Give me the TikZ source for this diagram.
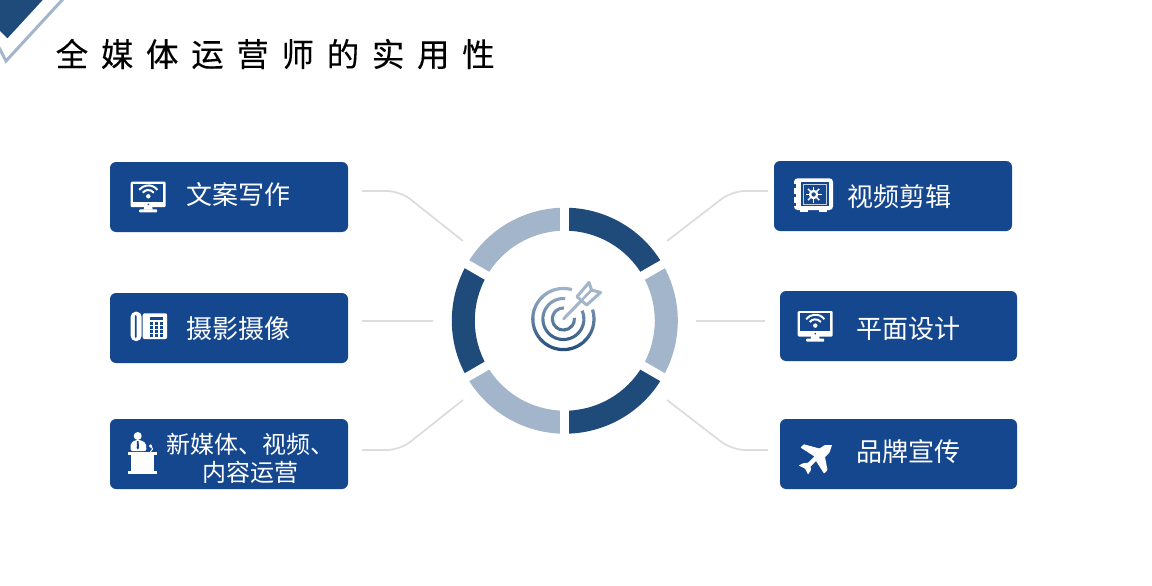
\documentclass[tikz,border=0pt]{standalone}
\usepackage{fontspec}
\setmainfont{Noto Sans CJK SC}
\newfontfamily\titlefont[LetterSpace=39,FakeBold=0.15]{Noto Sans CJK SC}
\definecolor{boxblue}{HTML}{15478F}
\definecolor{ringdark}{HTML}{1F4B7A}
\definecolor{ringlight}{HTML}{A2B5CA}
\definecolor{linkgrey}{HTML}{DADCDE}
\tikzset{
  cardbox/.style={fill=boxblue,rounded corners=6pt,inner sep=0pt,outer sep=0pt},
  cardtext/.style={text=white,font=\fontsize{26}{30}\selectfont,inner sep=0pt,anchor=west},
  smalltext/.style={text=white,font=\fontsize{24}{28}\selectfont,inner sep=0pt,anchor=west},
  linkline/.style={draw=linkgrey,line width=1.7pt,rounded corners=13pt},
  monitoricon/.pic={
    \fill[white,rounded corners=1.2pt] (0,0) rectangle (35,25.5);
    \fill[boxblue] (2.4,1.8) rectangle (32.6,19.8);
    \fill[white] (13.5,25) -- (21.5,25) -- (22,28) -- (13,28) -- cycle;
    \fill[white,rounded corners=0.8pt] (8.5,27.6) rectangle (26.5,30.6);
    \fill[boxblue] (17.6,22.7) circle[radius=0.9pt];
    \fill[white] (17.6,14.6) circle[radius=2.2pt];
    \begin{scope}[shift={(17.6,15.3)},y=1pt]
      \draw[white,line width=2pt] (38:7pt) arc[start angle=38,end angle=142,radius=7pt];
      \draw[white,line width=2pt] (38:11.6pt) arc[start angle=38,end angle=142,radius=11.6pt];
    \end{scope}
  }
}
\begin{document}
\begin{tikzpicture}[x=1pt,y=-1pt]
\useasboundingbox (0,0) rectangle (1152,586);
\fill[white] (0,0) rectangle (1152,586);

% corner mark
\begin{scope}
  \clip (0,0) rectangle (80,80);
  \fill[ringdark] (0,0) -- (42.7,0) -- (7.4,38.3) -- (0,31) -- cycle;
  \draw[ringlight,line width=3pt] (-6,38) -- (6,61) -- (64,-2);
\end{scope}

% title
\node[anchor=west,inner sep=0pt,font=\titlefont\fontsize{32.5}{36}\selectfont] (title) at (55.5,54) {全媒体运营师的实用性};

% cards
\path[cardbox] (110,162) rectangle (348,232);
\path[cardbox] (110,293) rectangle (348,363);
\path[cardbox] (110,419) rectangle (348,489);
\path[cardbox] (774,161) rectangle (1012,231);
\path[cardbox] (780,291) rectangle (1017,361);
\path[cardbox] (780,419) rectangle (1017,489);

% labels
\node[cardtext] (t1) at (186,195) {文案写作};
\node[cardtext] (t2) at (186,329) {摄影摄像};
\node[smalltext] (t3a) at (166,444) {新媒体、视频、};
\node[smalltext] (t3b) at (202,472) {内容运营};
\node[cardtext] (t4) at (847,197) {视频剪辑};
\node[cardtext] (t5) at (856,329) {平面设计};
\node[cardtext] (t6) at (856,452) {品牌宣传};

% connectors
\coordinate (l1a) at (362,191); \coordinate (l1b) at (400,191); \coordinate (l1c) at (463,241);
\coordinate (l2a) at (362,321); \coordinate (l2b) at (433,321);
\coordinate (l3a) at (362,450); \coordinate (l3b) at (400,450); \coordinate (l3c) at (463,400);
\coordinate (r1a) at (768,191); \coordinate (r1b) at (732,191); \coordinate (r1c) at (667,241);
\coordinate (r2a) at (765,321); \coordinate (r2b) at (696,321);
\coordinate (r3a) at (768,450); \coordinate (r3b) at (732,450); \coordinate (r3c) at (667,400);
\draw[linkline] (l1a) -- (l1b) -- (l1c);
\draw[linkline] (l2a) -- (l2b);
\draw[linkline] (l3a) -- (l3b) -- (l3c);
\draw[linkline] (r1a) -- (r1b) -- (r1c);
\draw[linkline] (r2a) -- (r2b);
\draw[linkline] (r3a) -- (r3b) -- (r3c);

% ring
\begin{scope}[shift={(564.8,320.7)},y=1pt]
  \foreach \a/\b/\c in {30/90/ringdark,-30/30/ringlight,-90/-30/ringdark,-150/-90/ringlight,-210/-150/ringdark,-270/-210/ringlight}{
    \fill[\c] (\a:113pt) arc[start angle=\a,end angle=\b,radius=113pt] -- (\b:90pt) arc[start angle=\b,end angle=\a,radius=90pt] -- cycle;
  }
  \foreach \a in {30,90,150,210,270,330}{
    \draw[white,line width=9pt] (\a:85pt) -- (\a:116pt);
  }
\end{scope}

% target icon
\begin{scope}
  \begin{scope}[shift={(563.4,319)},y=1pt]
    \clip (18:32.2pt) arc[start angle=18,end angle=-286,radius=32.2pt] -- (74:29pt) arc[start angle=74,end angle=378,radius=29pt] -- cycle
          (24:22.1pt) arc[start angle=24,end angle=-275,radius=22.1pt] -- (85:19pt) arc[start angle=85,end angle=384,radius=19pt] -- cycle
          (6:12.6pt) arc[start angle=6,end angle=-273,radius=12.6pt] -- (87:9.5pt) arc[start angle=87,end angle=366,radius=9.5pt] -- cycle;
    \shade[top color=ringlight,middle color=ringlight!88!ringdark,bottom color=ringdark] (-33,-33) rectangle (33,33);
  \end{scope}
  \draw[ringlight,line width=3pt,line cap=round] (563.6,318.8) -- (581,301);
  \draw[ringlight,line width=3pt,line join=round,line cap=round]
    (577,296.7) -- (589,282.5) -- (591.5,290) -- (600.5,292.5) -- (586.7,305) -- cycle;
  \draw[ringlight,line width=2.6pt,line cap=round] (581,301) -- (591.5,290);
\end{scope}

% icons
\pic at (130.7,181.7) {monitoricon};
\pic at (797.7,311) {monitoricon};

% telephone
\fill[white,rounded corners=5pt] (130.7,311.7) rectangle (141.6,341);
\fill[boxblue,rounded corners=1pt] (134.8,315) rectangle (136.6,338);
\fill[white,rounded corners=2pt] (142.6,313.3) rectangle (167.2,339);
\fill[boxblue] (150,316.6) rectangle (163,320.4);
\foreach \i in {0,1,2}{\foreach \j in {0,1,2,3}{
  \fill[boxblue] (150.2+4.9*\i,322.4+4*\j) rectangle ++(2.8,2.4);
}}

% lectern
\fill[white] (137.7,436) circle[radius=4pt];
\fill[white,rounded corners=2pt] (130.6,451) -- (130.6,443) -- (136,439.8) -- (140,439.8) -- (146,443) -- (146.4,451) -- cycle;
\fill[boxblue] (137,441) -- (138.6,441) -- (139,448) -- (137.9,449.6) -- (136.7,448) -- cycle;
\fill[white] (128,452) rectangle (157,455.4);
\fill[white] (131,455) rectangle (153.8,472);
\fill[white] (128,470.6) rectangle (157,473.8);
\draw[white,line width=1pt] (150.4,452) -- (152.5,449) -- (151,446);
\fill[white] (150.6,446) circle[radius=1.8pt];

% safe
\fill[white,rounded corners=3.5pt] (794,178.3) rectangle (833,210);
\fill[white] (800,209) rectangle (808,212.4);
\fill[white] (819,209) rectangle (827,212.4);
\fill[boxblue] (801,181.8) rectangle (829,206.3);
\fill[boxblue] (793.6,184.4) rectangle (796.4,187.5);
\fill[boxblue] (793.6,194) rectangle (796.4,197);
\fill[boxblue] (793.6,203) rectangle (796.4,206);
\draw[white!75!boxblue,line width=0.7pt] (803.4,184) rectangle (826.4,204);
\begin{scope}[shift={(813.6,194.5)},y=1pt]
  \foreach \a in {0,45,...,315}{\draw[white,line width=1.5pt] (\a:2pt) -- (\a:8pt);}
  \fill[white] (0,0) circle[radius=4.8pt];
  \fill[boxblue] (0,0) circle[radius=2.2pt];
\end{scope}

% plane
\fill[white,rounded corners=0.6pt]
  (832,445) -- (829.5,452.5) -- (825,457) -- (827.5,470) -- (824,473.5) -- (816,461)
  -- (810.5,466.5) -- (811,470) -- (808,474.5) -- (805,468.5) -- (798.5,465.5) -- (803,463.3)
  -- (808,462.8) -- (814.5,456.5) -- (800.5,447.5) -- (803.8,444.3) -- (819.5,448.5) -- (824.5,445.2) -- cycle;
\end{tikzpicture}
\end{document}
